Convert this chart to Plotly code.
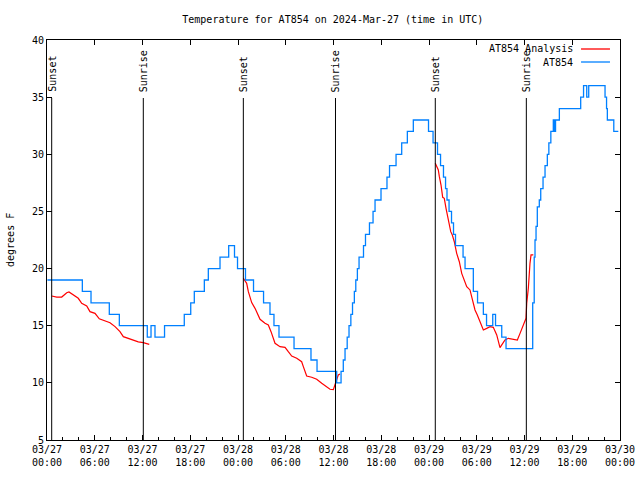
import plotly.graph_objects as go

# ---------------- data (hours since 2024-03-27 00:00 UTC) ----------------
obs_hours = [0.05, 4.44, 5.53, 7.83, 9.09, 12.60, 13.07, 13.57, 14.77, 17.25, 18.06, 18.51,
             19.77, 20.27, 21.74, 22.83, 23.56, 23.94, 24.94, 25.95, 27.21, 28.02, 28.52,
             29.15, 31.04, 33.17, 33.93, 36.40, 36.95, 37.23, 37.45, 37.72, 37.95, 38.18,
             38.39, 38.62, 38.80, 39.00, 39.21, 39.77, 40.02, 40.52, 40.97, 41.22, 41.97,
             42.72, 43.04, 43.86, 44.57, 45.28, 46.03, 47.94, 48.51, 49.07, 49.45, 49.82,
             50.08, 50.26, 50.52, 50.83, 51.08, 51.33, 52.28, 52.53, 53.57, 54.10, 54.83,
             55.23, 56.01, 56.36, 57.14, 57.68, 61.03, 61.22, 61.32, 61.45, 61.61, 61.86,
             62.04, 62.33, 62.58, 62.87, 63.06, 63.31, 63.62, 63.75, 63.90, 64.38, 67.06,
             67.42, 67.82, 68.07, 70.12, 70.31, 70.41, 71.22, 71.79]
obs_temps = [19, 18, 17, 16, 15, 14, 15, 14, 15, 16, 17, 18,
             19, 20, 21, 22, 21, 20, 19, 18, 17, 16, 15,
             14, 13, 12, 11, 10, 11, 12, 13, 14, 15, 16,
             17, 18, 19, 20, 21, 22, 23, 24, 25, 26, 27,
             28, 29, 30, 31, 32, 33, 32, 31, 30, 29, 28,
             27, 26, 25, 24, 23, 22, 21, 20, 18, 17, 16,
             15, 16, 15, 14, 13, 17, 21, 22.5, 23.7, 25.4, 26,
             27, 28, 29, 30, 31, 32, 33, 32, 33, 34, 35,
             36, 35, 36, 35, 34, 33, 32, 32]

ana1_hours = [0.59, 1.22, 1.85, 2.48, 2.76, 3.30, 3.93, 4.36, 4.99, 5.40, 6.03, 6.57,
              7.29, 7.92, 8.55, 9.17, 9.59, 10.22, 10.84, 11.47, 12.10, 12.85]
ana1_temps = [17.6, 17.51, 17.51, 17.89, 17.95, 17.69, 17.4, 16.96, 16.73, 16.23, 16.08, 15.6,
              15.41, 15.26, 14.92, 14.48, 14.04, 13.87, 13.75, 13.58, 13.52, 13.37]

ana2_hours = [24.67, 25.09, 25.30, 25.51, 25.72, 26.14, 26.55, 26.77, 27.39, 27.81, 28.15,
              28.44, 28.65, 29.28, 29.91, 30.32, 30.75, 31.38, 32.00, 32.21, 32.63, 33.26,
              33.89, 34.52, 35.15, 35.56, 35.98, 36.19, 36.40, 36.60, 36.82]
ana2_temps = [19.15, 18.71, 17.98, 17.54, 17.02, 16.52, 15.94, 15.56, 15.21, 15.06, 14.48,
              13.9, 13.46, 13.17, 13.11, 12.73, 12.35, 12.15, 11.85, 11.42, 10.6, 10.49,
              10.31, 9.96, 9.67, 9.44, 9.40, 9.81, 10.4, 10.69, 10.77]

ana3_hours = [48.79, 49.17, 49.30, 49.51, 49.72, 49.92, 50.14, 50.43, 50.73, 50.93, 51.18,
              51.48, 51.81, 52.11, 52.40, 52.74, 53.15, 53.49, 53.78, 54.07, 54.41, 54.83,
              55.25, 55.67, 56.08, 56.51, 56.92, 57.14, 57.55, 57.97, 58.52, 59.10, 59.44,
              59.85, 60.19, 60.28, 60.48, 60.69, 60.82, 61.11]
ana3_temps = [29.21, 28.63, 28.04, 27.31, 26.23, 26.15, 25.27, 24.25, 23.23, 22.94, 22.35,
              21.33, 20.6, 19.58, 19.0, 18.42, 18.13, 17.25, 16.38, 15.94, 15.35, 14.63,
              14.77, 14.92, 14.86, 14.19, 13.08, 13.31, 13.75, 13.9, 13.81, 13.75, 14.33,
              15.15, 15.65, 16.96, 18.27, 20.46, 21.19, 21.19]

sun_hours = [0.59, 12.10, 24.67, 36.25, 48.79, 60.23]
sun_labels = ["Sunset", "Sunrise", "Sunset", "Sunrise", "Sunset", "Sunrise"]

tick_hours = [0, 6, 12, 18, 24, 30, 36, 42, 48, 54, 60, 66, 72]
tick_labels = ["03/27<br>00:00", "03/27<br>06:00", "03/27<br>12:00", "03/27<br>18:00",
               "03/28<br>00:00", "03/28<br>06:00", "03/28<br>12:00", "03/28<br>18:00",
               "03/29<br>00:00", "03/29<br>06:00", "03/29<br>12:00", "03/29<br>18:00",
               "03/30<br>00:00"]

series_names = ["AT854 Analysis", "AT854"]
series_colors = ["#ff0000", "#0080ff"]

FONT = "DejaVu Sans Mono"

# ---------------- figure ----------------
ana_x = ana1_hours + [None] + ana2_hours + [None] + ana3_hours
ana_y = ana1_temps + [None] + ana2_temps + [None] + ana3_temps

fig = go.Figure()
fig.add_trace(go.Scatter(x=ana_x, y=ana_y, mode="lines", connectgaps=False,
                         line=dict(color=series_colors[0], width=1.2),
                         name=series_names[0], showlegend=False, hoverinfo="skip"))
fig.add_trace(go.Scatter(x=obs_hours, y=obs_temps, mode="lines",
                         line=dict(color=series_colors[1], width=1.3, shape="hv"),
                         name=series_names[1], showlegend=False, hoverinfo="skip"))
# dummy trace to activate top tick axis
fig.add_trace(go.Scatter(x=[0, 72], y=[None, None], xaxis="x2", mode="lines",
                         showlegend=False, hoverinfo="skip"))

shapes = []
annotations = []
for h, lab in zip(sun_hours, sun_labels):
    shapes.append(dict(type="line", xref="x", yref="paper", x0=h, x1=h, y0=0, y1=0.855,
                       line=dict(color="black", width=1), layer="above"))
    annotations.append(dict(x=h, xref="x", y=0.865, yref="paper", text=lab, textangle=-90,
                            xanchor="center", yanchor="bottom", showarrow=False,
                            font=dict(family=FONT, size=10, color="black")))

# legend drawn manually (text right aligned, sample on the right)
leg_y = [0.9775, 0.945]
for name, col, y in zip(series_names, series_colors, leg_y):
    annotations.append(dict(x=0.9215, xref="paper", y=y, yref="paper", text=name,
                            xanchor="right", yanchor="middle", showarrow=False,
                            font=dict(family=FONT, size=10, color="black")))
    shapes.append(dict(type="line", xref="paper", yref="paper", x0=0.932, x1=0.9825,
                       y0=y, y1=y, line=dict(color=col, width=1.3)))

annotations.append(dict(x=-0.0646, xref="paper", y=0.5, yref="paper", text="degrees F",
                        textangle=-90, xanchor="center", yanchor="middle", showarrow=False,
                        font=dict(family=FONT, size=10, color="black")))

fig.update_layout(
    width=640, height=480,
    margin=dict(l=47, r=20, t=40, b=40, autoexpand=False),
    paper_bgcolor="white", plot_bgcolor="white",
    showlegend=False,
    title=dict(text="Temperature for AT854 on 2024-Mar-27 (time in UTC)",
               x=0.52, xanchor="center", y=1 - 19 / 480, yanchor="middle",
               font=dict(family=FONT, size=10, color="black")),
    xaxis=dict(range=[0, 72], tickmode="array", tickvals=tick_hours, ticktext=tick_labels,
               ticks="inside", ticklen=5, tickcolor="black", automargin=False,
               minor=dict(dtick=2, tick0=0, ticks="inside", ticklen=3, tickcolor="black"),
               showline=True, linecolor="black", linewidth=1, mirror=True,
               showgrid=False, zeroline=False,
               tickfont=dict(family=FONT, size=10, color="black")),
    xaxis2=dict(range=[0, 72], overlaying="x", side="top", tickmode="array",
                tickvals=tick_hours, ticks="inside", ticklen=5, tickcolor="black",
                automargin=False,
                showticklabels=False, showline=False, showgrid=False, zeroline=False),
    yaxis=dict(range=[5, 40], dtick=5, tick0=5, ticks="inside", ticklen=5, tickcolor="black",
               showline=True, linecolor="black", linewidth=1, mirror="ticks",
               showgrid=False, zeroline=False, automargin=False,
               tickfont=dict(family=FONT, size=10, color="black")),
    shapes=shapes, annotations=annotations,
)

fig.write_html("out.html")
